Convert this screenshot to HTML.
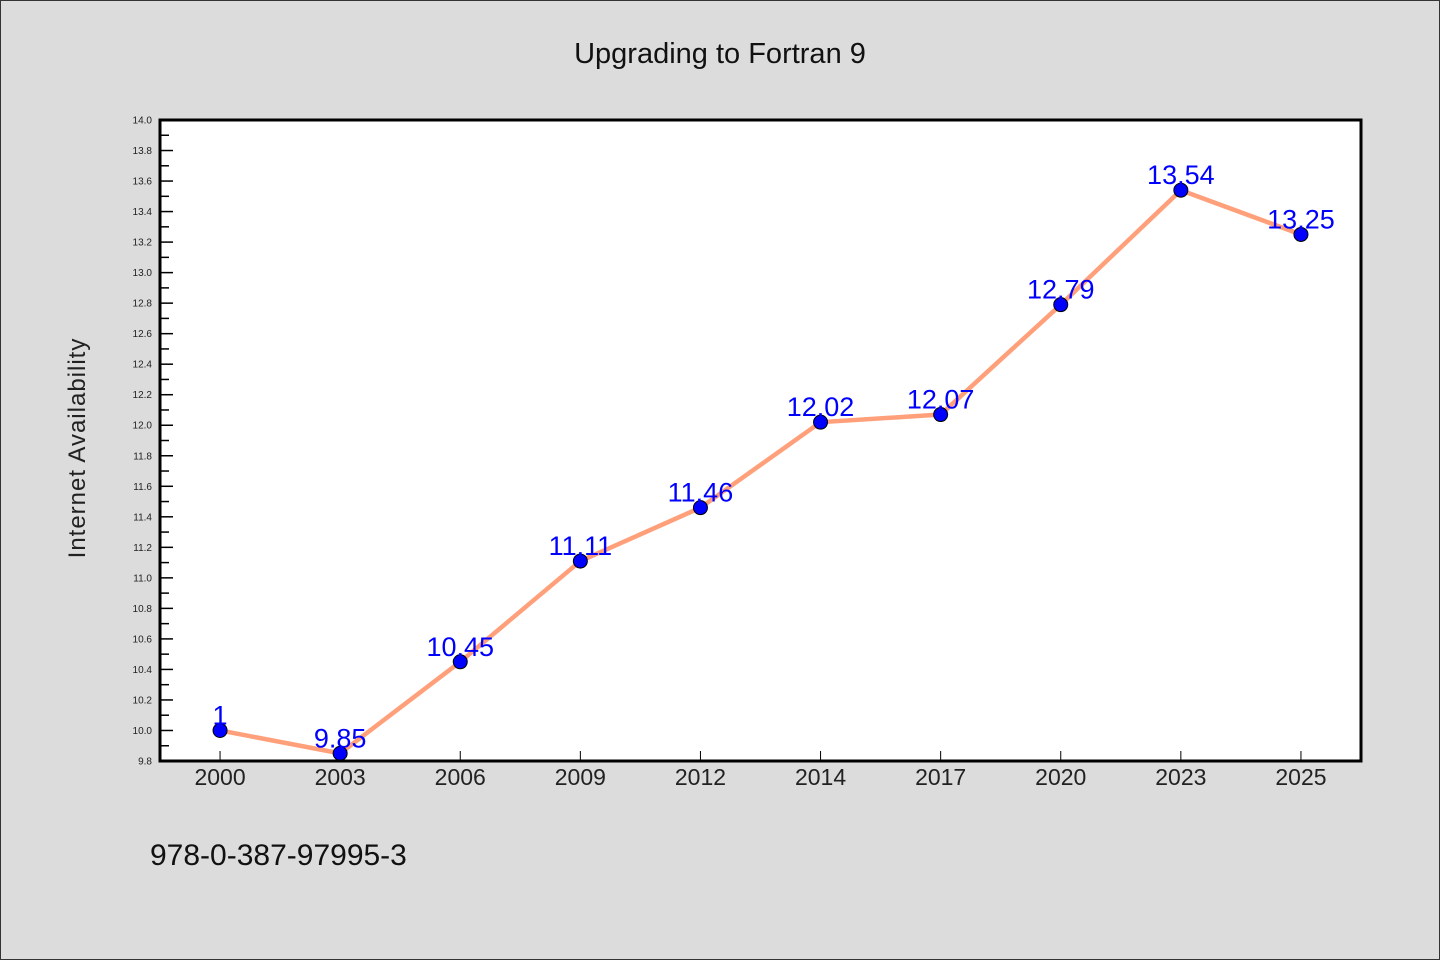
<!DOCTYPE html>
<html><head><meta charset="utf-8"><style>
html,body{margin:0;padding:0;background:#dcdcdc;}
svg{display:block;font-family:"WenQuanYi Zen Hei","Liberation Sans",sans-serif;}
</style></head><body>
<svg width="1440" height="960" xmlns="http://www.w3.org/2000/svg">
<rect x="0.5" y="0.5" width="1439" height="959" fill="#dcdcdc" stroke="#333"/>
<text x="720" y="63" text-anchor="middle" font-size="29" fill="#111">Upgrading to Fortran 9</text>
<rect x="160" y="120" width="1201" height="641" fill="#fff"/>
<g id="yticks"></g><g id="xticks"></g>
<text transform="translate(85,448) rotate(-90)" text-anchor="middle" font-size="24" fill="#222" letter-spacing="1">Internet Availability</text>
<g id="series"></g>
<rect x="160" y="120" width="1201" height="641" fill="none" stroke="#000" stroke-width="3"/>
<text x="150" y="865" font-size="30" fill="#111">978-0-387-97995-3</text>
</svg>
<script>
const categories=["2000","2003","2006","2009","2012","2014","2017","2020","2023","2025"];
const values=[10.0,9.85,10.45,11.11,11.46,12.02,12.07,12.79,13.54,13.25];
const valueLabels=["1","9.85","10.45","11.11","11.46","12.02","12.07","12.79","13.54","13.25"];
const yMin=9.8,yMax=14.0;
const ns="http://www.w3.org/2000/svg";
const X0=160,X1=1361,Y0=120,Y1=761;
const step=(X1-X0)/categories.length;
function xs(i){return X0+step*(i+0.5);}
function ys(v){return Y1-(v-yMin)/(yMax-yMin)*(Y1-Y0);}
function mk(t,a,p){const e=document.createElementNS(ns,t);for(const k in a)e.setAttribute(k,a[k]);p.appendChild(e);return e;}
const yt=document.getElementById('yticks');
for(let k=0;k<=42;k++){const v=yMin+k*0.1;const y=ys(v);const major=k%2===0;
 const l=mk('line',{x1:160,x2:160+(major?13:9),y1:y,y2:y,stroke:'#000','stroke-width':1.5},yt);
 
 
 if(major){const t=mk('text',{x:152,y:y+3.5,'text-anchor':'end','font-size':10,fill:'#222'},yt);t.textContent=v.toFixed(1);
 
 }}
const xt=document.getElementById('xticks');
categories.forEach((c,i)=>{const x=xs(i);
 const l=mk('line',{x1:x,x2:x,y1:761,y2:751,stroke:'#000','stroke-width':1},xt);
 
 
 const t=mk('text',{x:x,y:785,'text-anchor':'middle','font-size':23,fill:'#222'},xt);t.textContent=c;
 
 });
const s=document.getElementById('series');
const pl=mk('polyline',{points:values.map((v,i)=>xs(i)+','+ys(v)).join(' '),fill:'none',stroke:'#ffa07a','stroke-width':4.5,'stroke-linejoin':'round'},s);


values.forEach((v,i)=>{
 const c=mk('circle',{cx:xs(i),cy:ys(v),r:7,fill:'#0000ff',stroke:'#000','stroke-width':1},s);
 
 
 const t=mk('text',{x:xs(i),y:ys(v)-6,'text-anchor':'middle','font-size':27,fill:'#0000ff'},s);t.textContent=valueLabels[i];
 
 });
</script>
</body></html>
